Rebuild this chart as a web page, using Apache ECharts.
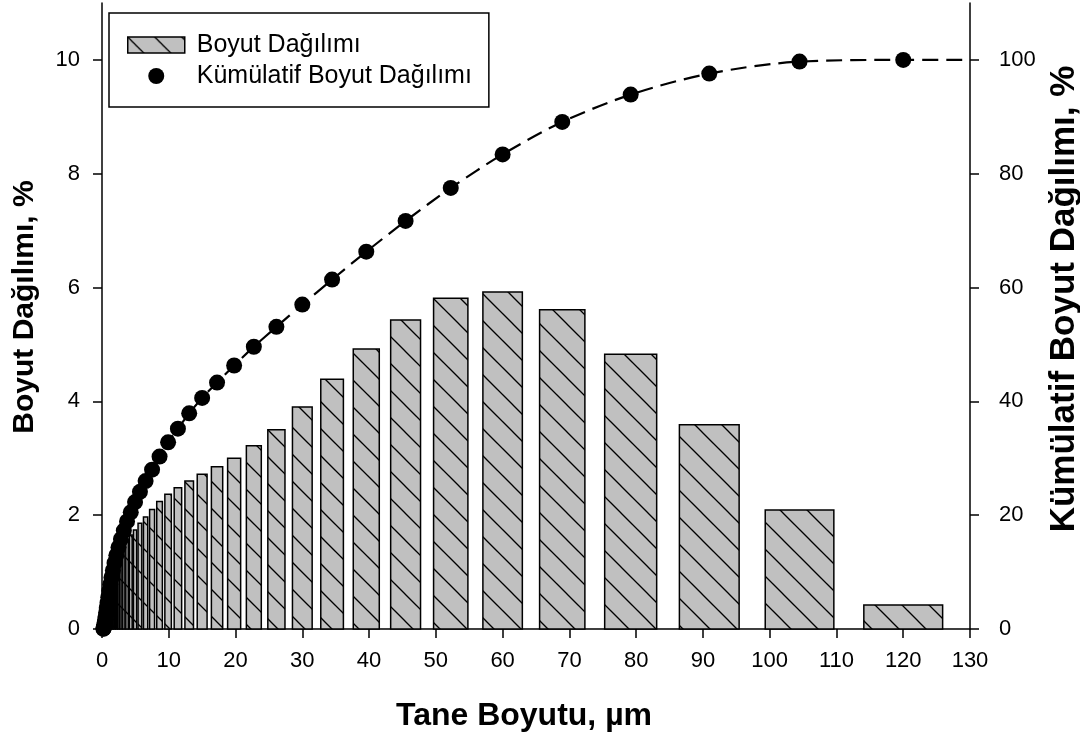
<!DOCTYPE html>
<html>
<head>
<meta charset="utf-8">
<script src="https://cdn.jsdelivr.net/npm/echarts@6/dist/echarts.min.js"></script>
<style>
  html, body { margin: 0; padding: 0; background: #fff; overflow: hidden; }
  #chart { width: 1080px; height: 740px; }
</style>
</head>
<body>
<div id="chart"></div>
<script>
// ---- Data ----
const sizes = [0.204,0.235,0.27,0.31,0.355,0.41,0.47,0.54,0.62,0.71,0.82,0.94,1.08,1.24,1.42,1.63,1.875,2.15,2.47,2.84,3.27,3.75,4.31,4.95,5.68,6.53,7.5,8.62,9.9,11.37,13.06,15.0,17.23,19.79,22.74,26.12,30.0,34.46,39.58,45.47,52.23,60.0,68.93,79.18,90.95,104.47,120.0];
const distribution = [0.03,0.07,0.1,0.2,0.3,0.4,0.5,0.6,0.7,0.8,0.9,1.0,1.1,1.15,1.2,1.25,1.3,1.35,1.4,1.45,1.5,1.57,1.65,1.74,1.86,1.97,2.10,2.24,2.37,2.48,2.60,2.72,2.85,3.00,3.22,3.50,3.90,4.39,4.92,5.43,5.81,5.92,5.61,4.83,3.59,2.09,0.42];
const cumulative = [0.03,0.1,0.2,0.4,0.7,1.1,1.6,2.2,2.9,3.7,4.6,5.6,6.7,7.85,9.05,10.3,11.6,12.95,14.35,15.8,17.3,18.9,20.5,22.3,24.1,26.0,28.0,30.3,32.8,35.2,37.9,40.6,43.3,46.3,49.6,53.1,57.0,61.4,66.3,71.7,77.5,83.4,89.1,93.9,97.6,99.7,100];
const curveEnd = [[130, 100]];
const leftTicks = [0, 2, 4, 6, 8, 10];
const rightTicks = [0, 20, 40, 60, 80, 100];
const seriesNames = ['Boyut Dağılımı', 'Kümülatif Boyut Dağılımı'];
const axisNames = { x: 'Tane Boyutu, µm', left: 'Boyut Dağılımı, %', right: 'Kümülatif Boyut Dağılımı, %' };

// ---- Styling helpers ----
const FONT = "'Liberation Sans', Arial, sans-serif";
const BAR_FILL = 0.76; // fraction of the bin spacing covered by a bar

function makeHatch() {
  const s = 27;
  const c = document.createElement('canvas');
  c.width = s; c.height = s;
  const ctx = c.getContext('2d');
  ctx.fillStyle = '#c0c0c0';
  ctx.fillRect(0, 0, s, s);
  ctx.strokeStyle = '#000';
  ctx.lineWidth = 1.3;
  for (const dx of [-s, 0, s]) {
    ctx.beginPath();
    ctx.moveTo(dx - 2, -2);
    ctx.lineTo(dx + s + 2, s + 2);
    ctx.stroke();
  }
  return { image: c, repeat: 'repeat' };
}
const hatch = makeHatch();

const barData = sizes.map((x, i) => {
  const ratio = i < sizes.length - 1 ? sizes[i + 1] / sizes[i] : sizes[i] / sizes[i - 1];
  const w = BAR_FILL * (x - x / ratio);
  return [x, distribution[i], w];
});
const cumData = sizes.map((x, i) => [x, cumulative[i]]);
const lineData = cumData.concat(curveEnd);

const chart = echarts.init(document.getElementById('chart'), null, { renderer: 'canvas' });

const axisCommon = {
  axisLine: { show: true, lineStyle: { color: '#000', width: 1.5 } },
  axisTick: { show: true, length: 9, lineStyle: { color: '#000', width: 1.5 } },
  splitLine: { show: false }
};
const nameStyle = { fontFamily: FONT, fontSize: 30, fontWeight: 'bold', color: '#000' };

chart.setOption({
  animation: false,
  backgroundColor: '#fff',
  grid: { left: 102, right: 110, top: 3, bottom: 111, containLabel: false, outerBoundsMode: 'none' },
  legend: {
    orient: 'vertical',
    left: 109, top: 13,
    padding: [19, 17, 18, 18],
    itemGap: 5,
    itemWidth: 57, itemHeight: 16,
    borderColor: '#000', borderWidth: 1.5,
    backgroundColor: '#fff',
    selectedMode: false,
    textStyle: { fontFamily: FONT, fontSize: 25, color: '#000', lineHeight: 26, padding: [0, 0, 0, 7] },
    data: [
      { name: seriesNames[0], icon: 'rect', itemStyle: { color: hatch, borderColor: '#000', borderWidth: 1.5 } },
      { name: seriesNames[1], icon: 'circle', itemStyle: { color: '#000', opacity: 1 } }
    ]
  },
  xAxis: Object.assign({}, axisCommon, {
    type: 'value', min: 0, max: 130, interval: 10,
    name: axisNames.x, nameLocation: 'middle', nameGap: 71,
    nameTextStyle: Object.assign({}, nameStyle, { fontSize: 32, padding: [0, 24, 0, 0] }),
    axisLabel: { fontFamily: FONT, fontSize: 22, color: '#000', margin: 21 }
  }),
  yAxis: [
    Object.assign({}, axisCommon, {
      type: 'value', min: 0, max: 11, interval: 2, position: 'left',
      name: axisNames.left, nameLocation: 'middle', nameGap: 62,
      nameTextStyle: Object.assign({}, nameStyle, { padding: [0, 0, 0, 18] }),
      axisTick: Object.assign({}, axisCommon.axisTick, { customValues: leftTicks }),
      axisLabel: { fontFamily: FONT, fontSize: 22, color: '#000', margin: 22, customValues: leftTicks }
    }),
    Object.assign({}, axisCommon, {
      type: 'value', min: 0, max: 110, interval: 20, position: 'right',
      name: axisNames.right, nameLocation: 'middle', nameGap: 76,
      nameTextStyle: Object.assign({}, nameStyle, { fontSize: 35, padding: [0, 0, 0, 34] }),
      axisTick: Object.assign({}, axisCommon.axisTick, { customValues: rightTicks }),
      axisLabel: { fontFamily: FONT, fontSize: 22, color: '#000', margin: 29, customValues: rightTicks }
    })
  ],
  series: [
    {
      name: seriesNames[0],
      type: 'custom',
      xAxisIndex: 0, yAxisIndex: 0,
      itemStyle: { color: hatch, borderColor: '#000', borderWidth: 1.5 },
      encode: { x: 0, y: 1 },
      data: barData,
      renderItem: function (params, api) {
        const x = api.value(0), y = api.value(1), w = api.value(2);
        const p0 = api.coord([x - w / 2, y]);
        const p1 = api.coord([x + w / 2, 0]);
        return {
          type: 'rect',
          shape: { x: p0[0], y: p0[1], width: p1[0] - p0[0], height: p1[1] - p0[1] },
          style: { fill: hatch, stroke: '#000', lineWidth: 1.5 }
        };
      },
      z: 2
    },
    {
      name: 'curve',
      type: 'line',
      yAxisIndex: 1,
      data: lineData,
      smooth: 0.3,
      showSymbol: false,
      symbol: 'none',
      lineStyle: { color: '#000', width: 2.2, type: [16, 8] },
      z: 3
    },
    {
      name: seriesNames[1],
      type: 'scatter',
      yAxisIndex: 1,
      data: cumData,
      symbol: 'circle',
      symbolSize: 16,
      itemStyle: { color: '#000', opacity: 1 },
      z: 4
    }
  ]
});
</script>
</body>
</html>
